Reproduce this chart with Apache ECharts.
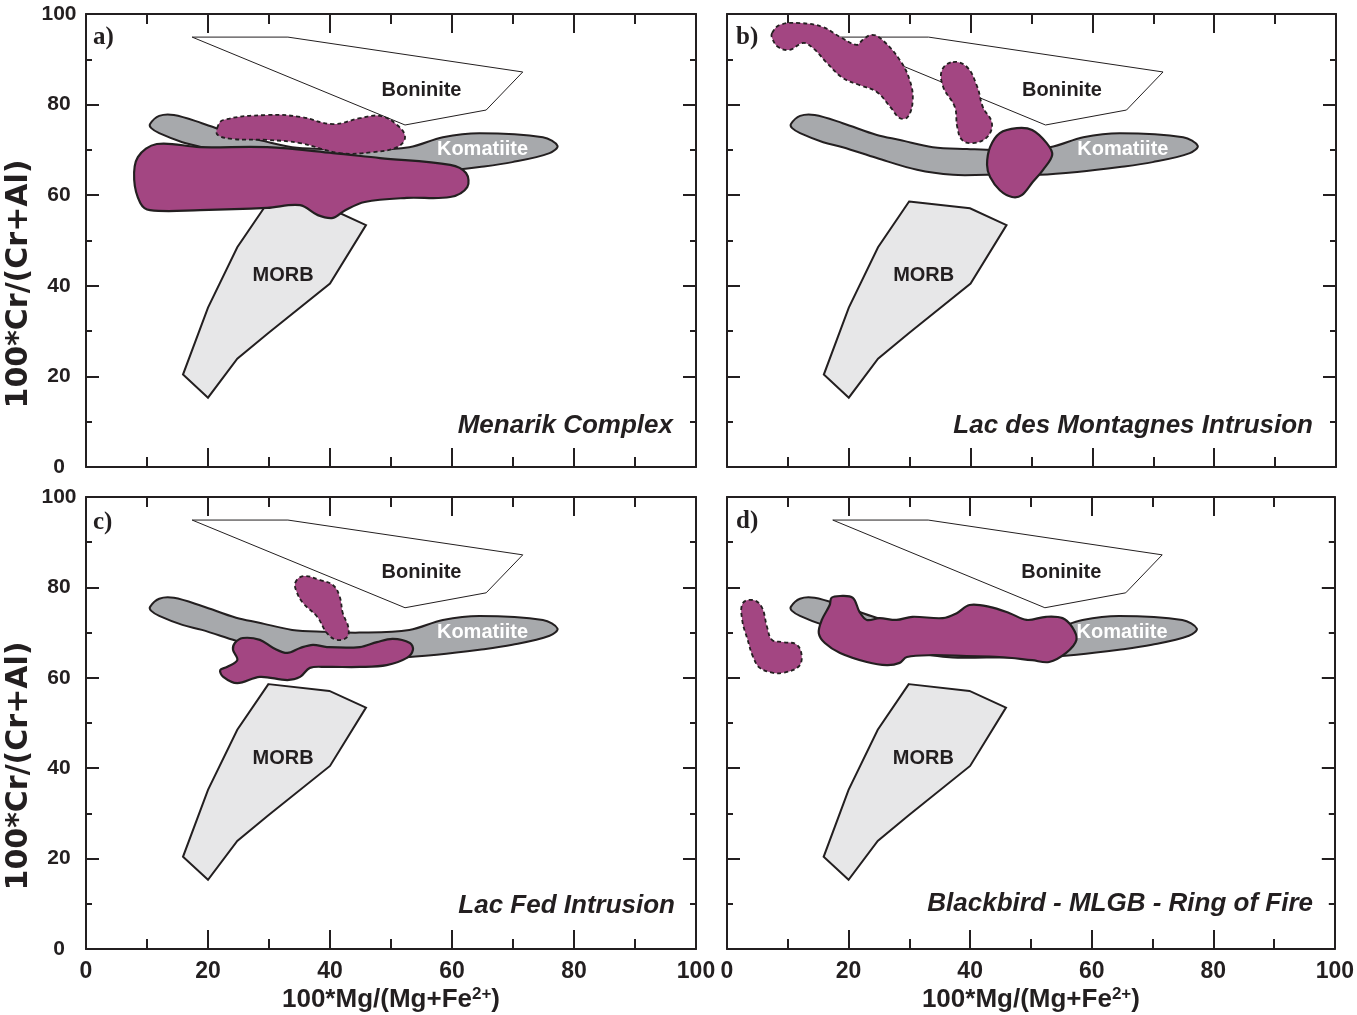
<!DOCTYPE html>
<html>
<head>
<meta charset="utf-8">
<script src="https://cdn.jsdelivr.net/npm/echarts@6/dist/echarts.min.js"></script>
<style>
  html, body { margin: 0; padding: 0; background: #fff; }
  #main { width: 1357px; height: 1015px; }
</style>
</head>
<body>
<div id="main"></div>
<script>
// reference fields, same in every panel  [Mg#, Cr#]
const boninite = [[17.4, 94.9], [33.1, 94.9], [71.6, 87.2], [65.6, 78.8], [52.3, 75.5]];
const morb = [[29.9, 58.6], [39.9, 57.1], [45.9, 53.4], [40.0, 40.5], [29.9, 29.6], [24.8, 23.9],
  [20.0, 15.3], [15.9, 20.4], [20.0, 35.2], [24.8, 48.5]];
const komatiite = [[10.5, 75.7], [12.0, 77.5], [14.4, 77.7], [19.0, 75.9], [24.6, 73.3], [28.4, 72.2],
  [33.8, 70.6], [39.4, 70.2], [44.8, 70.0], [53.0, 70.6], [58.5, 72.8], [64.5, 73.7], [74.9, 72.8],
  [77.3, 70.9], [76.0, 69.3], [69.9, 67.3], [64.5, 66.2], [57.5, 65.1], [51.4, 64.5], [42.7, 64.5],
  [37.1, 64.5], [31.2, 65.6], [24.6, 68.2], [19.0, 70.6], [15.8, 71.7], [12.0, 73.7], [10.7, 74.8]];

const fieldNames = ['Boninite', 'MORB', 'Komatiite'];
const fieldLabelX = [55.0, 32.3, 65.0];
const fieldLabelY = [83.2, 42.2, 70.0];

// a) Menarik Complex
const aSolid = [[11.6, 71.3], [18.7, 70.6], [29.7, 70.6], [40.5, 69.3], [48.2, 68.2], [59.7, 66.7],
  [62.3, 64.9], [62.5, 61.8], [59.7, 59.6], [52.6, 59.4], [45.7, 58.5], [42.5, 56.7], [40.5, 55.0],
  [38.0, 55.6], [35.1, 57.8], [29.7, 57.2], [18.7, 56.7], [10.5, 56.7], [8.9, 58.3], [7.9, 63.4], [8.5, 68.4]];
const aDashed = [[21.5, 74.8], [22.5, 76.6], [29.7, 77.7], [35.1, 77.3], [40.5, 75.7], [44.9, 77.0],
  [48.2, 77.5], [51.0, 75.5], [52.3, 72.8], [51.0, 70.6], [47.0, 69.5], [41.6, 69.3], [35.1, 71.5],
  [29.7, 72.2], [24.1, 72.4], [21.6, 73.3]];

// b) Lac des Montagnes Intrusion
const bDashed1 = [[7.4, 95.8], [8.7, 97.6], [12.0, 98.0], [15.8, 97.1], [18.6, 94.9], [21.3, 93.2],
  [22.3, 94.3], [23.8, 95.4], [25.5, 94.3], [28.4, 89.8], [30.0, 85.4], [30.5, 81.0], [29.7, 77.3],
  [28.4, 77.0], [26.8, 79.5], [24.6, 82.8], [21.8, 84.3], [19.0, 85.9], [16.4, 89.2], [14.1, 92.5],
  [12.5, 93.6], [10.3, 92.1], [8.4, 92.7], [7.4, 94.7]];
const bDashed2 = [[37.1, 89.4], [39.4, 88.3], [41.1, 83.9], [42.0, 79.5], [43.5, 75.9], [42.7, 72.8],
  [40.4, 71.5], [38.6, 72.2], [37.8, 75.1], [37.4, 79.5], [35.5, 83.9], [35.3, 87.6]];
const bSolid = [[42.7, 66.7], [43.2, 70.6], [44.8, 73.7], [47.6, 74.8], [50.1, 74.4], [52.5, 71.5],
  [53.4, 68.9], [51.9, 65.6], [50.2, 62.9], [48.4, 60.0], [46.8, 59.6], [44.8, 61.1], [43.2, 64.0]];

// c) Lac Fed Intrusion
const cDashed = [[34.3, 81.0], [35.6, 82.5], [38.4, 81.6], [40.5, 80.5], [41.6, 77.9], [42.1, 74.3],
  [43.0, 71.2], [42.8, 69.0], [41.1, 68.4], [39.5, 69.9], [37.9, 73.5], [35.6, 76.5], [34.6, 78.8]];
const cSolid = [[24.4, 67.7], [25.7, 68.8], [28.5, 68.4], [30.7, 66.6], [33.0, 65.5], [35.1, 66.6],
  [37.2, 67.3], [39.5, 66.8], [44.9, 66.8], [47.7, 67.9], [50.3, 68.6], [53.1, 67.7], [53.6, 66.2],
  [52.6, 64.4], [49.3, 62.8], [44.9, 62.4], [39.5, 62.4], [36.7, 62.2], [35.1, 60.2], [33.0, 59.5],
  [28.5, 60.2], [24.8, 58.8], [22.5, 60.2], [22.0, 61.7], [23.1, 62.4], [24.8, 63.9], [24.1, 66.2]];

// d) Blackbird - MLGB - Ring of Fire
const dDashed = [[2.6, 76.5], [4.3, 77.2], [5.7, 75.7], [6.6, 71.2], [7.4, 68.4], [9.2, 67.9],
  [11.5, 67.3], [12.3, 64.6], [11.7, 62.4], [9.2, 61.1], [7.6, 61.1], [5.4, 62.2], [4.3, 64.6],
  [3.4, 68.4], [2.5, 72.8]];
const dSolid = [[17.2, 77.7], [18.6, 78.1], [20.7, 77.7], [21.8, 74.6], [23.0, 72.8], [25.1, 73.2],
  [27.9, 72.8], [30.5, 73.5], [35.5, 73.2], [37.8, 74.3], [39.9, 76.1], [43.2, 75.7], [46.5, 74.3],
  [49.3, 72.8], [52.5, 73.5], [55.2, 73.2], [56.8, 71.2], [57.5, 68.4], [55.8, 65.5], [53.0, 63.5],
  [50.2, 63.9], [44.8, 64.6], [39.4, 64.8], [33.8, 65.0], [29.6, 64.6], [28.4, 63.3], [26.3, 62.8],
  [23.0, 63.5], [18.6, 65.5], [16.1, 67.7], [15.1, 69.9], [15.6, 72.8], [16.9, 76.1]];

const panelLetters = ['a)', 'b)', 'c)', 'd)'];
const panelTitles = ['Menarik Complex', 'Lac des Montagnes Intrusion', 'Lac Fed Intrusion',
  'Blackbird - MLGB - Ring of Fire'];
const solidFields = [[aSolid], [bSolid], [cSolid], [dSolid]];
const dashedFields = [[aDashed], [bDashed1, bDashed2], [cDashed], [dDashed]];

const axisMin = 0, axisMax = 100, tickStep = 20;
const yTitle = '100*Cr/(Cr+Al)';

const INK = '#231F20';
const PURPLE = '#A34682';
const KOMA = '#A7A9AC';
const MORBFILL = '#E7E7E8';
const SANS = "'Liberation Sans', Arial, Helvetica, sans-serif";

const grids = [
  {left: 86, top: 14, width: 610, height: 453},
  {left: 727, top: 14, width: 609, height: 453},
  {left: 86, top: 497, width: 610, height: 452},
  {left: 727, top: 497, width: 609, height: 452}
];

const xAxes = [], yAxes = [], series = [];

grids.forEach(function (g, i) {
  const bottomRow = i >= 2, leftCol = i % 2 === 0;
  ['bottom', 'top'].forEach(function (pos) {
    const isMain = pos === 'bottom';
    xAxes.push({
      type: 'value', gridIndex: i, position: pos,
      min: axisMin, max: axisMax, interval: tickStep,
      axisLine: {show: true, onZero: false, lineStyle: {color: INK, width: 2}},
      axisTick: {show: true, inside: true, length: 19, lineStyle: {color: INK, width: 2}},
      minorTick: {show: true, splitNumber: 2, length: 10, lineStyle: {color: INK, width: 2}},
      splitLine: {show: false},
      axisLabel: {
        show: isMain && bottomRow, margin: 11, color: INK,
        fontFamily: SANS, fontWeight: 'bold', fontSize: 23,
        showMinLabel: true, showMaxLabel: true
      },
      name: isMain && bottomRow ? '{m|100*Mg/(Mg+Fe}{s|2+}{m|)}' : '',
      nameLocation: 'middle', nameGap: 37,
      nameTextStyle: {
        rich: {
          m: {fontFamily: SANS, fontWeight: 'bold', fontSize: 26, color: INK, lineHeight: 27},
          s: {fontFamily: SANS, fontWeight: 'bold', fontSize: 17, color: INK, verticalAlign: 'top', lineHeight: 17}
        }
      }
    });
  });
  ['left', 'right'].forEach(function (pos) {
    const isMain = pos === 'left';
    yAxes.push({
      type: 'value', gridIndex: i, position: pos,
      min: axisMin, max: axisMax, interval: tickStep,
      axisLine: {show: true, onZero: false, lineStyle: {color: INK, width: 2}},
      axisTick: {show: true, inside: true, length: 13, lineStyle: {color: INK, width: 2}},
      minorTick: {show: true, splitNumber: 2, length: 6, lineStyle: {color: INK, width: 2}},
      splitLine: {show: false},
      axisLabel: {
        show: isMain && leftCol, margin: 27, align: 'center', color: INK,
        fontFamily: SANS, fontWeight: 'bold', fontSize: 21,
        showMinLabel: true, showMaxLabel: true
      }
    });
  });
});

function polySeries(panel, pts, style, smooth) {
  return {
    type: 'custom', coordinateSystem: 'cartesian2d',
    xAxisIndex: panel * 2, yAxisIndex: panel * 2,
    silent: true, animation: false,
    data: pts, encode: {x: 0, y: 1},
    renderItem: function (params, api) {
      if (params.dataIndex !== 0) return null;
      return {
        type: 'polygon',
        shape: {points: pts.map(function (p) { return api.coord(p); }), smooth: smooth},
        style: style
      };
    }
  };
}

for (let p = 0; p < 4; p++) {
  series.push(polySeries(p, boninite, {fill: '#fff', stroke: INK, lineWidth: 1}, 0));
  series.push(polySeries(p, morb, {fill: MORBFILL, stroke: INK, lineWidth: 2, lineJoin: 'miter'}, 0));
  series.push(polySeries(p, komatiite, {fill: KOMA, stroke: INK, lineWidth: 2}, 0.35));
  dashedFields[p].forEach(function (f) {
    series.push(polySeries(p, f, {fill: PURPLE, stroke: INK, lineWidth: 1.8, lineDash: [4, 3]}, 0.4));
  });
  solidFields[p].forEach(function (f) {
    series.push(polySeries(p, f, {fill: PURPLE, stroke: INK, lineWidth: 2.2}, 0.35));
  });
  // field names
  series.push({
    type: 'custom', coordinateSystem: 'cartesian2d',
    xAxisIndex: p * 2, yAxisIndex: p * 2, silent: true, animation: false, z: 5,
    data: fieldNames.map(function (n, k) { return [fieldLabelX[k], fieldLabelY[k]]; }),
    renderItem: function (params, api) {
      const c = api.coord([api.value(0), api.value(1)]);
      const name = fieldNames[params.dataIndex];
      return {
        type: 'text', x: c[0], y: c[1],
        style: {
          text: name, align: 'center', verticalAlign: 'middle',
          fill: name === 'Komatiite' ? '#fff' : INK,
          font: 'bold 20px ' + SANS
        }
      };
    }
  });
}

const letterPos = [[93, 38], [736, 38], [93, 523], [736, 522]];
const titlePos = [[673, 426], [1313, 426], [675, 906], [1313, 904]];
const yTitlePos = [[19, 284], [19, 766]];
const graphics = [];
for (let p = 0; p < 4; p++) {
  graphics.push({
    type: 'text', x: letterPos[p][0], y: letterPos[p][1], silent: true,
    style: {text: panelLetters[p], fill: INK, font: "bold 25px 'Liberation Serif', 'Times New Roman', serif",
      align: 'left', verticalAlign: 'middle'}
  });
  graphics.push({
    type: 'text', x: titlePos[p][0], y: titlePos[p][1], silent: true,
    style: {text: panelTitles[p], fill: INK, font: 'italic bold 26px ' + SANS,
      align: 'right', verticalAlign: 'middle'}
  });
}
yTitlePos.forEach(function (pos) {
  graphics.push({
    type: 'text', x: pos[0], y: pos[1], rotation: Math.PI / 2, silent: true,
    style: {text: yTitle, fill: INK, font: "bold 30px 'DejaVu Sans', sans-serif",
      align: 'center', verticalAlign: 'middle'}
  });
});

const chart = echarts.init(document.getElementById('main'));
chart.setOption({
  backgroundColor: '#fff',
  animation: false,
  grid: grids,
  xAxis: xAxes,
  yAxis: yAxes,
  series: series,
  graphic: graphics
});
</script>
</body>
</html>
